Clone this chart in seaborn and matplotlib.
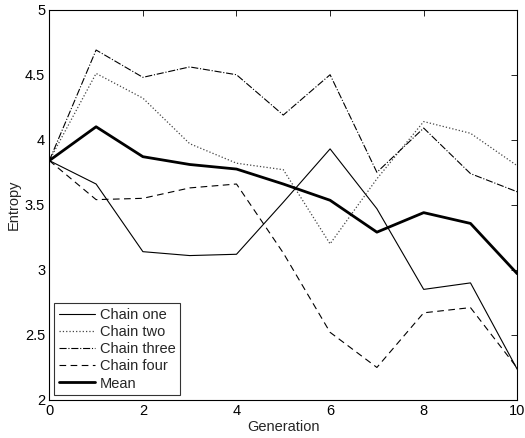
import matplotlib
matplotlib.use("Agg")
import matplotlib.pyplot as plt
import seaborn as sns
import pandas as pd

generations = [0, 1, 2, 3, 4, 5, 6, 7, 8, 9, 10]
chain_one = [3.84, 3.66, 3.14, 3.11, 3.12, 3.52, 3.93, 3.47, 2.85, 2.90, 2.235]
chain_two = [3.84, 4.51, 4.32, 3.97, 3.82, 3.77, 3.20, 3.70, 4.14, 4.05, 3.80]
chain_three = [3.84, 4.69, 4.48, 4.56, 4.50, 4.19, 4.50, 3.75, 4.09, 3.74, 3.60]
chain_four = [3.84, 3.54, 3.55, 3.63, 3.66, 3.13, 2.52, 2.25, 2.67, 2.71, 2.245]
mean = [3.84, 4.10, 3.87, 3.81, 3.775, 3.66, 3.535, 3.29, 3.44, 3.357, 2.97]

series_names = ["Chain one", "Chain two", "Chain three", "Chain four", "Mean"]
series_values = [chain_one, chain_two, chain_three, chain_four, mean]
x_ticks = [0, 2, 4, 6, 8, 10]
y_ticks = [2, 2.5, 3, 3.5, 4, 4.5, 5]
y_tick_labels = ["2", "2.5", "3", "3.5", "4", "4.5", "5"]

sns.set_style("white")
plt.rcParams["font.family"] = ["Liberation Sans", "DejaVu Sans"]

fig = plt.figure(figsize=(5.25, 4.38), dpi=100)
ax = fig.add_axes([0.0939, 0.0868, 0.8914, 0.8911])

styles = {
    "Chain one": dict(linestyle="-", linewidth=0.8, color="black"),
    "Chain two": dict(linestyle=":", linewidth=0.9, color="#444444"),
    "Chain three": dict(linestyle="-.", linewidth=0.8, color="black"),
    "Chain four": dict(linestyle=(0, (6, 4)), linewidth=0.8, color="black"),
    "Mean": dict(linestyle="-", linewidth=2.0, color="black"),
}

for name, vals in zip(series_names, series_values):
    df = pd.DataFrame({"Generation": generations, "Entropy": vals})
    sns.lineplot(data=df, x="Generation", y="Entropy", ax=ax,
                 label=name, **styles[name])

ax.set_xlim(0, 10)
ax.set_ylim(2, 5)
ax.set_xticks(x_ticks)
ax.set_xticklabels([str(t) for t in x_ticks])
ax.set_yticks(y_ticks)
ax.set_yticklabels(y_tick_labels)
ax.tick_params(direction="in", length=4, width=0.6, top=True, right=True,
               labelsize=10.5, colors="black", pad=3)
for s in ax.spines.values():
    s.set_visible(True)
    s.set_color("black")
    s.set_linewidth(0.8)
ax.set_xlabel("Generation", fontsize=10.5, labelpad=1)
ax.set_ylabel("Entropy", fontsize=10.5, labelpad=3)

leg = ax.legend(loc="lower left", fontsize=10.5, frameon=True, fancybox=False,
                edgecolor="black", borderpad=0.3, labelspacing=0.22,
                handlelength=2.5, handletextpad=0.3, borderaxespad=0.35)
leg.get_frame().set_linewidth(0.8)

fig.savefig("out.png", dpi=100)
